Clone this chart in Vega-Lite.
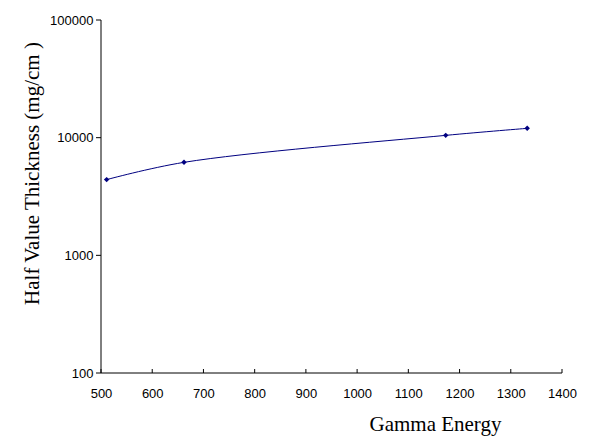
{
  "$schema": "https://vega.github.io/schema/vega-lite/v6.json",
  "width": 461,
  "height": 353,
  "autosize": {"type": "none"},
  "padding": {"left": 101, "top": 20, "right": 28, "bottom": 74},
  "background": "white",
  "config": {
    "view": {"stroke": null},
    "axis": {
      "grid": false,
      "domain": false,
      "ticks": false,
      "labelColor": "black",
      "titleColor": "black",
      "labelFont": "Liberation Sans",
      "labelFontSize": 13,
      "titleFont": "Liberation Serif",
      "titleFontSize": 21,
      "titleFontWeight": "normal",
      "labelFlush": false
    }
  },
  "datasets": {
    "points": [
      {"energy": 511, "hvt": 4400},
      {"energy": 662, "hvt": 6170},
      {"energy": 1173, "hvt": 10460},
      {"energy": 1332, "hvt": 12000}
    ],
    "frame": [
      {"o": 1, "energy": 500, "hvt": 100000},
      {"o": 2, "energy": 500, "hvt": 100},
      {"o": 3, "energy": 1400, "hvt": 100}
    ],
    "yticks": [
      {"energy": 500, "hvt": 100},
      {"energy": 500, "hvt": 1000},
      {"energy": 500, "hvt": 10000},
      {"energy": 500, "hvt": 100000}
    ],
    "xticks": [
      {"energy": 500, "hvt": 100},
      {"energy": 600, "hvt": 100},
      {"energy": 700, "hvt": 100},
      {"energy": 800, "hvt": 100},
      {"energy": 900, "hvt": 100},
      {"energy": 1000, "hvt": 100},
      {"energy": 1100, "hvt": 100},
      {"energy": 1200, "hvt": 100},
      {"energy": 1300, "hvt": 100},
      {"energy": 1400, "hvt": 100}
    ]
  },
  "encoding": {
    "x": {
      "field": "energy",
      "type": "quantitative",
      "scale": {"domain": [500, 1400], "nice": false, "zero": false},
      "axis": {
        "values": [500, 600, 700, 800, 900, 1000, 1100, 1200, 1300, 1400],
        "format": "d",
        "labelPadding": 14,
        "title": "Gamma Energy",
        "titleX": 334,
        "titleY": 57,
        "titleAlign": "center",
        "titleBaseline": "alphabetic"
      }
    },
    "y": {
      "field": "hvt",
      "type": "quantitative",
      "scale": {"type": "log", "domain": [100, 100000], "nice": false},
      "axis": {
        "values": [100, 1000, 10000, 100000],
        "format": "d",
        "labelPadding": 8,
        "title": "Half Value Thickness (mg/cm )",
        "titleX": -63,
        "titleY": 153,
        "titleAlign": "center",
        "titleBaseline": "alphabetic",
        "titleAngle": -90
      }
    }
  },
  "layer": [
    {
      "data": {"name": "frame"},
      "mark": {"type": "line", "color": "#000000", "strokeWidth": 1, "interpolate": "linear"},
      "encoding": {"order": {"field": "o", "type": "quantitative"}}
    },
    {
      "data": {"name": "yticks"},
      "mark": {"type": "tick", "orient": "horizontal", "color": "#000000", "size": 5, "thickness": 1, "xOffset": -2.5, "opacity": 1}
    },
    {
      "data": {"name": "xticks"},
      "mark": {"type": "tick", "orient": "vertical", "color": "#000000", "size": 4, "thickness": 1, "yOffset": -2, "opacity": 1}
    },
    {
      "data": {"name": "points"},
      "mark": {"type": "line", "color": "#000080", "strokeWidth": 1, "interpolate": "catmull-rom"}
    },
    {
      "data": {"name": "points"},
      "mark": {"type": "point", "shape": "diamond", "filled": true, "color": "#000080", "size": 30, "opacity": 1}
    }
  ]
}
